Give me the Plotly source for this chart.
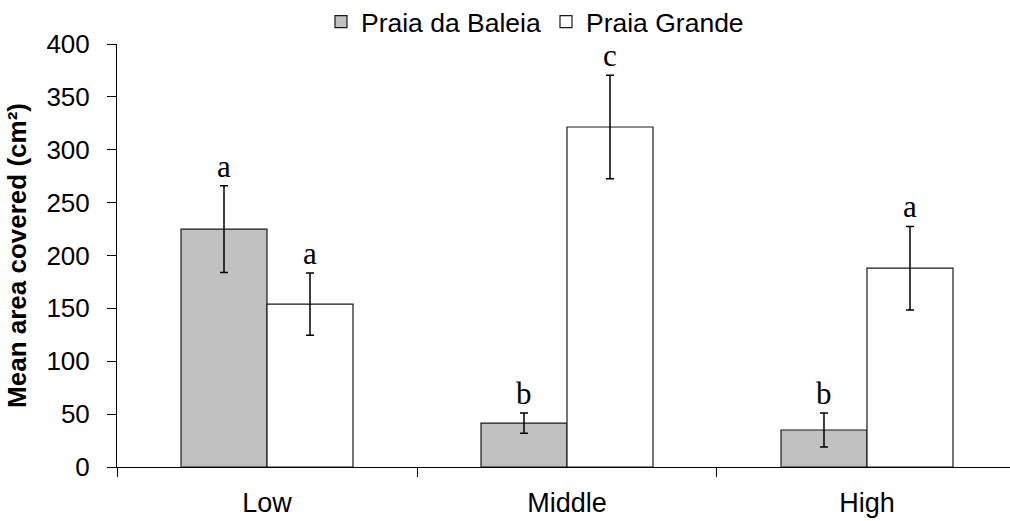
import plotly.graph_objects as go

categories = ["Low", "Middle", "High"]
baleia_mean = [225, 41.5, 35]
baleia_err = [41, 9.5, 16]
grande_mean = [154, 321.5, 188]
grande_err = [29.5, 49, 39.5]
baleia_letters = ["a", "b", "b"]
grande_letters = ["a", "c", "a"]
y_ticks = [0, 50, 100, 150, 200, 250, 300, 350, 400]

fig = go.Figure()
fig.add_trace(go.Bar(
    x=categories, y=baleia_mean, name="Praia da Baleia",
    marker=dict(color="#C0C0C0", line=dict(color="#1a1a1a", width=1.2)),
    error_y=dict(type="data", array=baleia_err, visible=True, color="#000000", thickness=1.5, width=4),
))
fig.add_trace(go.Bar(
    x=categories, y=grande_mean, name="Praia Grande",
    marker=dict(color="#FFFFFF", line=dict(color="#1a1a1a", width=1.2)),
    error_y=dict(type="data", array=grande_err, visible=True, color="#000000", thickness=1.5, width=4),
))

annotations = []
for i, c in enumerate(categories):
    annotations.append(dict(x=c, y=baleia_mean[i] + baleia_err[i], text=baleia_letters[i],
                            xref="x", yref="y", showarrow=False, xshift=-43, yshift=0,
                            yanchor="bottom", font=dict(family="Liberation Serif", size=31, color="#000")))
    annotations.append(dict(x=c, y=grande_mean[i] + grande_err[i], text=grande_letters[i],
                            xref="x", yref="y", showarrow=False, xshift=43, yshift=0,
                            yanchor="bottom", font=dict(family="Liberation Serif", size=31, color="#000")))

fig.update_layout(
    width=1010, height=521,
    margin=dict(l=117, r=0, t=44, b=54, pad=0, autoexpand=False),
    paper_bgcolor="white", plot_bgcolor="white",
    barmode="group", bargap=0.4267, bargroupgap=0,
    font=dict(family="Liberation Sans", color="#000"),
    showlegend=True,
    legend=dict(orientation="h", xref="container", yref="container",
                x=0.5297, xanchor="center", y=0.958, yanchor="middle",
                font=dict(size=26.5, family="Liberation Sans"), itemwidth=30,
                bgcolor="rgba(0,0,0,0)"),
    annotations=annotations,
)
fig.update_xaxes(
    range=[-0.5, 2.4767], showline=True, linecolor="#000", linewidth=1,
    ticks="outside", tickson="boundaries", ticklen=9, tickcolor="#000", tickwidth=1,
    tickfont=dict(size=27), ticklabelstandoff=12, showgrid=False, zeroline=False,
    automargin=False,
)
fig.update_yaxes(
    range=[0, 400], tickvals=y_ticks, showline=True, linecolor="#000", linewidth=1,
    ticks="outside", ticklen=9, tickcolor="#000", tickwidth=1,
    tickfont=dict(size=26), ticklabelstandoff=12, showgrid=False, zeroline=False,
    title=dict(text="<b>Mean area covered (cm²)</b>", font=dict(size=26), standoff=12),
    automargin=False,
)

fig.write_html("out.html")
